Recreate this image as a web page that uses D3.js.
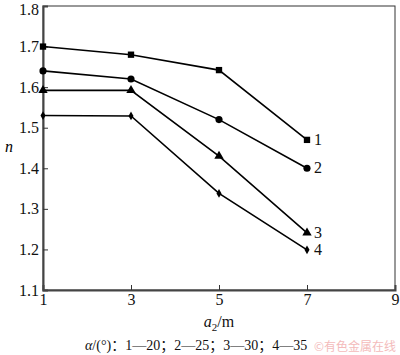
<!DOCTYPE html>
<html><head><meta charset="utf-8">
<script src="https://cdn.jsdelivr.net/npm/d3@7"></script>
<style>body{margin:0;background:#fff;}svg{display:block;}</style>
</head><body>
<svg id="c" width="400" height="355"></svg>
<script>
const xValues = [1, 3, 5, 7];
const series1 = [1.70, 1.68, 1.642, 1.47];
const series2 = [1.64, 1.62, 1.52, 1.40];
const series3 = [1.592, 1.592, 1.43, 1.241];
const series4 = [1.53, 1.529, 1.338, 1.199];
const seriesLabels = ["1", "2", "3", "4"];
const xTicks = [1, 3, 5, 7, 9];
const yTicks = [1.1, 1.2, 1.3, 1.4, 1.5, 1.6, 1.7, 1.8];
const captionParts = ["α", "/(°)：1—20；2—25；3—30；4—35"];
const watermark = "有色金属在线";

const svg = d3.select("#c");
const L = 43, R = 395, T = 6, B = 290;
const x = d3.scaleLinear().domain([1, 9]).range([L, R]);
const y = d3.scaleLinear().domain([1.1, 1.8]).range([B, T]);
const font = "'Liberation Serif', 'Times New Roman', 'Noto Sans CJK SC', serif";

svg.append("rect").attr("x", L).attr("y", T).attr("width", R - L).attr("height", B - T)
  .attr("fill", "none").attr("stroke", "#333").attr("stroke-width", 1);

const xAxis = svg.append("g").attr("transform", `translate(0,${B})`)
  .call(d3.axisBottom(x).tickValues(xTicks).tickSize(-5).tickPadding(4).tickFormat(d3.format("d")));
const yAxis = svg.append("g").attr("transform", `translate(${L},0)`)
  .call(d3.axisLeft(y).tickValues(yTicks).tickSize(-5).tickPadding(4).tickFormat(d3.format(".1f")));
[xAxis, yAxis].forEach(g => {
  g.select(".domain").attr("stroke", "#444").attr("stroke-width", 2);
  g.selectAll(".tick line").attr("stroke", "#333");
  g.selectAll("text").attr("font-family", font).attr("font-size", 16).attr("fill", "#111");
});
xAxis.selectAll(".tick").filter(d => d === 1 || d === 9).select("line").remove();
yAxis.selectAll(".tick").filter(d => d === 1.1 || d === 1.8).select("line").remove();
yAxis.selectAll(".tick").filter(d => d === 1.8).select("text").attr("dy", "0.5em");

const all = [series1, series2, series3, series4];
const line = d3.line().x((d, i) => x(xValues[i])).y(d => y(d));
all.forEach(s => {
  svg.append("path").attr("d", line(s)).attr("fill", "none").attr("stroke", "#000").attr("stroke-width", 1.6);
});
const shapes = [d3.symbolSquare, d3.symbolCircle, d3.symbolTriangle, d3.symbolDiamond];
const sizes = [40, 40, 38, 22];
all.forEach((s, k) => {
  svg.append("g").selectAll("path").data(s).join("path")
    .attr("transform", (d, i) => `translate(${x(xValues[i])},${y(d)})`)
    .attr("d", d3.symbol().type(shapes[k]).size(sizes[k])).attr("fill", "#000");
  svg.append("text").attr("x", x(7) + 7).attr("y", y(s[3]) + 5)
    .attr("font-family", font).attr("font-size", 16).attr("fill", "#111").text(seriesLabels[k]);
});

svg.append("text").attr("x", 9).attr("y", 152).attr("font-family", font).attr("font-style", "italic")
  .attr("font-size", 16).attr("text-anchor", "middle").text("n");

const xl = svg.append("text").attr("x", 219).attr("y", 327).attr("font-family", font)
  .attr("font-size", 16).attr("text-anchor", "middle").attr("fill", "#111");
xl.append("tspan").attr("font-style", "italic").text("a");
xl.append("tspan").attr("font-size", 11).attr("dy", 4).text("2");
xl.append("tspan").attr("dy", -4).text("/m");

const cap = svg.append("text").attr("x", 85).attr("y", 350).attr("font-family", font)
  .attr("font-size", 14).attr("fill", "#111");
cap.append("tspan").attr("font-style", "italic").text(captionParts[0]);
cap.append("tspan").text(captionParts[1]);

svg.append("text").attr("x", 396).attr("y", 351).attr("text-anchor", "end")
  .attr("font-family", "'Noto Sans CJK SC', sans-serif").attr("font-size", 12)
  .attr("fill", "#f3b4b4").attr("opacity", 0.9).text("©" + watermark);
</script>
</body></html>
